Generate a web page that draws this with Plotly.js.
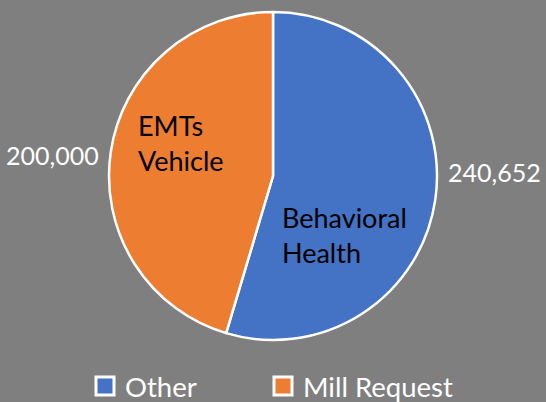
<!DOCTYPE html>
<html>
<head>
<meta charset="utf-8">
<script src="https://cdn.plot.ly/plotly-3.0.1.min.js"></script>
<style>html,body{margin:0;padding:0;background:#7f7f7f;}#chart{width:546px;height:402px;}</style>
</head>
<body>
<div id="chart"></div>
<script>
const categories = ["Other", "Mill Request"];
const values = [240652, 200000];
const sliceColors = ["#4472C4", "#ED7D31"];
const innerLabels = ["Behavioral<br>Health", "EMTs<br>Vehicle"];

const FONT = "Lato, 'Open Sans', sans-serif";
const W = 546, H = 402, mt = 12, mb = 62;
const ph = H - mt - mb;
function py(pxY) { return (H - mb - pxY) / ph; }
function fmt(v) { return v.toLocaleString('en-US'); }

const trace = {
  type: 'pie',
  labels: categories,
  values: values,
  sort: false,
  direction: 'clockwise',
  rotation: 0,
  marker: { colors: sliceColors, line: { color: '#ffffff', width: 2.5 } },
  textinfo: 'none',
  hoverinfo: 'label+value'
};

const annotations = [
  { text: innerLabels[0], x: 280 / W, y: py(235), xanchor: 'left', yanchor: 'middle', align: 'left', font: { color: '#000', size: 27 } },
  { text: innerLabels[1], x: 136 / W, y: py(143), xanchor: 'left', yanchor: 'middle', align: 'left', font: { color: '#000', size: 27 } },
  { text: fmt(values[0]), x: 446 / W, y: py(172), xanchor: 'left', yanchor: 'middle', font: { color: '#fff', size: 25 } },
  { text: fmt(values[1]), x: 101 / W, y: py(155), xanchor: 'right', yanchor: 'middle', font: { color: '#fff', size: 25 } }
].map(a => Object.assign({ xref: 'paper', yref: 'paper', showarrow: false }, a));

const layout = {
  width: W, height: H,
  margin: { l: 0, r: 0, t: mt, b: mb, autoexpand: false },
  paper_bgcolor: '#7f7f7f',
  plot_bgcolor: '#7f7f7f',
  font: { family: FONT, color: '#ffffff', size: 25 },
  showlegend: true,
  legend: {
    orientation: 'h', x: 85 / W, xanchor: 'left', y: py(386), yanchor: 'middle',
    entrywidth: 133, entrywidthmode: 'pixels',
    bgcolor: 'rgba(0,0,0,0)',
    font: { family: FONT, color: '#ffffff', size: 27.5 },
    traceorder: 'normal'
  },
  annotations: annotations
};

Plotly.newPlot('chart', [trace], layout, { displayModeBar: false, staticPlot: true }).then(function () {
  document.querySelectorAll('#chart .legend [clip-path]').forEach(function (e) {
    e.removeAttribute('clip-path');
  });
  document.querySelectorAll('#chart .legendpoints path').forEach(function (p) {
    var t = p.getAttribute('transform') || '';
    p.setAttribute('transform', t + ' scale(1.5)');
    p.style.strokeWidth = '2px';
  });
});
</script>
</body>
</html>
